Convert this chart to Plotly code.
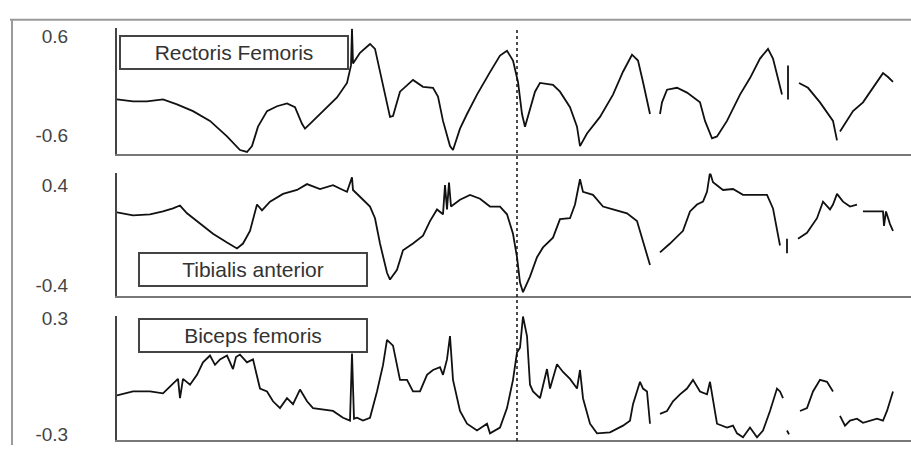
import plotly.graph_objects as go

# ---- data (time in s, EMG envelope values) ----
t_rf = [0.00,0.16,0.30,0.46,0.60,0.76,0.93,1.10,1.23,1.30,1.35,1.41,1.50,1.60,1.70,1.78,1.85,1.88,1.95,2.06,2.20,2.30,2.34,2.35,2.36,2.43,2.53,2.58,2.63,2.70,2.73,2.76,2.83,2.96,3.06,3.16,3.21,3.26,3.33,3.36,3.43,3.50,3.60,3.73,3.83,3.90,3.96,4.01,4.05,4.08,4.11,4.18,4.23,4.36,4.43,4.53,4.60,4.63,4.70,4.83,4.96,5.06,5.15,5.21,5.26,5.33,None,
        5.43,5.45,5.50,5.60,5.70,5.83,5.88,5.95,6.00,6.10,6.23,6.33,6.43,6.51,6.56,6.65,None,
        6.71,6.71,None,
        6.82,6.91,7.03,7.13,7.16,7.20,None,
        7.23,7.36,7.46,7.56,7.66,7.71,7.76]
rf = [-0.165,-0.188,-0.188,-0.165,-0.224,-0.306,-0.424,-0.612,-0.776,-0.80,-0.729,-0.494,-0.306,-0.247,-0.212,-0.259,-0.459,-0.518,-0.435,-0.306,-0.141,0.035,0.247,0.69,0.271,0.40,0.506,0.447,0.165,-0.200,-0.376,-0.365,-0.071,0.071,-0.012,-0.024,-0.129,-0.424,-0.729,-0.776,-0.518,-0.341,-0.106,0.165,0.365,0.424,0.306,0.047,-0.341,-0.494,-0.376,-0.071,0.035,0.012,-0.071,-0.259,-0.494,-0.729,-0.576,-0.376,-0.106,0.17,0.376,0.306,0.047,-0.341,None,
      -0.341,-0.200,-0.047,-0.024,-0.082,-0.200,-0.424,-0.635,-0.612,-0.424,-0.106,0.094,0.329,0.447,0.329,-0.106,None,
      0.247,-0.165,None,
      0.035,-0.024,-0.200,-0.376,-0.424,-0.659,None,
      -0.553,-0.306,-0.200,-0.024,0.153,0.106,0.047]

t_ta = [0.00,0.16,0.33,0.46,0.56,0.63,0.70,0.83,0.96,1.10,1.20,1.26,1.33,1.40,1.45,1.53,1.66,1.80,1.90,2.03,2.16,2.26,2.30,2.35,2.36,2.43,2.53,2.58,2.63,2.70,2.73,2.80,2.86,2.96,3.06,3.13,3.20,3.26,3.28,3.30,3.32,3.34,3.43,3.53,3.63,3.73,3.83,3.90,3.96,4.00,4.03,4.06,4.09,4.13,4.20,4.26,4.36,4.43,4.53,4.58,4.63,4.66,4.76,4.86,4.96,5.10,5.20,5.26,5.33,None,
        5.43,5.53,5.66,5.73,5.80,5.86,5.90,5.93,5.96,6.06,6.16,6.26,6.36,6.50,6.56,6.60,6.63,None,
        6.70,6.70,None,
        6.81,6.90,7.00,7.06,7.13,7.16,7.20,7.26,7.33,7.40,None,
        7.46,7.60,7.66,7.67,7.69,7.73,7.76]
ta = [0.183,0.159,0.167,0.190,0.214,0.237,0.175,0.097,0.012,-0.058,-0.105,-0.066,0.035,0.245,0.198,0.268,0.330,0.361,0.408,0.369,0.40,0.361,0.346,0.462,0.361,0.307,0.229,0.136,-0.066,-0.299,-0.353,-0.276,-0.120,-0.066,-0.004,0.113,0.206,0.167,0.40,0.206,0.42,0.229,0.283,0.322,0.291,0.229,0.229,0.167,0.012,-0.175,-0.377,-0.454,-0.40,-0.330,-0.175,-0.097,-0.019,0.128,0.136,0.245,0.447,0.346,0.322,0.229,0.206,0.175,0.113,-0.043,-0.237,None,
      -0.136,-0.066,0.035,0.190,0.245,0.268,0.346,0.501,0.423,0.361,0.369,0.322,0.322,0.322,0.214,0.058,-0.082,None,
      -0.027,-0.144,None,
      -0.027,0.019,0.136,0.268,0.206,0.245,0.330,0.268,0.229,0.245,None,
      0.190,0.190,0.190,0.074,0.190,0.089,0.035]

t_bf = [0.00,0.16,0.33,0.46,0.56,0.61,0.63,0.66,0.73,0.80,0.86,0.93,0.98,1.03,1.10,1.16,1.19,1.23,1.30,1.36,1.43,1.50,1.56,1.63,1.70,1.76,1.83,1.90,1.96,2.03,2.16,2.26,2.33,2.35,2.37,2.40,2.46,2.53,2.60,2.66,2.70,2.76,2.83,2.90,2.96,3.03,3.10,3.16,3.23,3.26,3.30,3.33,3.36,3.43,3.50,3.60,3.70,3.73,3.83,3.90,3.96,4.00,4.03,4.06,4.10,4.13,4.16,4.23,4.30,4.33,4.40,4.46,4.53,4.60,4.63,4.66,4.73,4.80,4.93,5.06,5.13,5.16,5.23,5.26,5.30,5.33,None,
        5.43,5.50,5.56,5.63,5.70,5.76,5.83,5.90,5.93,5.96,6.00,6.10,6.16,6.20,6.26,6.33,6.40,6.46,6.53,6.60,6.63,6.66,None,
        6.70,6.72,None,
        6.83,6.90,6.96,7.03,7.10,7.16,None,
        7.23,7.28,7.33,7.40,7.46,7.53,7.60,7.66,7.70,7.73,7.76]
bf = [-0.098,-0.078,-0.078,-0.088,-0.038,-0.013,-0.113,-0.013,-0.043,0.008,0.073,0.108,0.06,0.088,0.108,0.038,0.10,0.113,0.073,0.088,-0.063,-0.078,-0.129,-0.164,-0.113,-0.144,-0.068,-0.129,-0.164,-0.169,-0.179,-0.214,-0.229,0.118,-0.219,-0.214,-0.229,-0.214,-0.078,0.058,0.189,0.159,-0.018,-0.018,-0.078,-0.078,0.008,0.033,0.048,0.008,0.088,0.209,-0.018,-0.179,-0.245,-0.280,-0.245,-0.295,-0.265,-0.164,-0.018,0.124,0.149,0.310,0.209,-0.043,-0.078,-0.113,0.038,-0.063,0.063,0.023,-0.013,-0.063,0.033,-0.113,-0.245,-0.295,-0.290,-0.255,-0.229,-0.144,-0.028,-0.063,-0.078,-0.245,None,
      -0.194,-0.179,-0.129,-0.093,-0.063,-0.018,-0.078,-0.093,-0.028,-0.113,-0.245,-0.265,-0.255,-0.295,-0.315,-0.265,-0.315,-0.280,-0.179,-0.063,-0.078,-0.113,None,
      -0.28,-0.30,None,
      -0.179,-0.164,-0.078,-0.018,-0.028,-0.078,None,
      -0.204,-0.255,-0.229,-0.219,-0.240,-0.229,-0.219,-0.229,-0.179,-0.129,-0.078]

muscles = ["Rectoris Femoris", "Tibialis anterior", "Biceps femoris"]
tick_rf = [0.6, -0.6]
tick_ta = [0.4, -0.4]
tick_bf = [0.3, -0.3]
event_t = 4.0

W, H = 911, 450
X_LEFT = 117 / W
FONT = "Liberation Sans, Arial, sans-serif"

fig = go.Figure()
line = dict(color="#111111", width=1.8)
fig.add_trace(go.Scatter(x=t_rf, y=rf, mode="lines", line=line, xaxis="x", yaxis="y", connectgaps=False, showlegend=False))
fig.add_trace(go.Scatter(x=t_ta, y=ta, mode="lines", line=line, xaxis="x2", yaxis="y2", connectgaps=False, showlegend=False))
fig.add_trace(go.Scatter(x=t_bf, y=bf, mode="lines", line=line, xaxis="x3", yaxis="y3", connectgaps=False, showlegend=False))

xr = [0, 7.94]
def xax(anchor):
    return dict(domain=[X_LEFT, 1], range=xr, anchor=anchor, showline=True, linecolor="#777777",
                linewidth=2, showticklabels=False, ticks="", showgrid=False, zeroline=False, fixedrange=True)

def yax(anchor, dom, rng, ticks):
    return dict(domain=dom, range=rng, anchor=anchor, showline=True, linecolor="#444444", linewidth=2,
                ticks="", tickvals=ticks, ticktext=[f"{v:g}" for v in ticks], showgrid=False, zeroline=False,
                tickfont=dict(family=FONT, size=19, color="#444444"), ticklabelstandoff=43)

fig.update_layout(
    width=W, height=H, margin=dict(l=0, r=0, t=0, b=0),
    paper_bgcolor="white", plot_bgcolor="white",
    xaxis=xax("y"), xaxis2=xax("y2"), xaxis3=xax("y3"),
    yaxis=yax("x", [1 - 151 / H, 1 - 22 / H], [-0.824, 0.694], tick_rf),
    yaxis2=yax("x2", [1 - 297 / H, 1 - 171 / H], [-0.485, 0.493], tick_ta),
    yaxis3=yax("x3", [1 - 445 / H, 1 - 317 / H], [-0.330, 0.315], tick_bf),
)

# dotted event line across all panels
fig.add_shape(type="line", xref="x", yref="paper", x0=event_t, x1=event_t, y0=1 - 446 / H, y1=1 - 22 / H,
              line=dict(color="#111111", width=1.5, dash="dot"))
# outer frame (top and left)
fig.add_shape(type="line", xref="paper", yref="paper", x0=10 / W, x1=1, y0=1 - 13 / H, y1=1 - 13 / H,
              line=dict(color="#9a9a9a", width=2))
fig.add_shape(type="line", xref="paper", yref="paper", x0=12 / W, x1=12 / W, y0=0, y1=1 - 13 / H,
              line=dict(color="#9a9a9a", width=2))

boxes = [((119 + 348) / 2, (30 + 64) / 2), ((138 + 367) / 2, (252 + 287) / 2), ((138 + 367) / 2, (320 + 356) / 2)]
for name, (cx, cy) in zip(muscles, boxes):
    fig.add_annotation(text=name, xref="paper", yref="paper", x=cx / W, y=1 - cy / H,
                       xanchor="center", yanchor="middle", showarrow=False,
                       font=dict(family=FONT, size=21, color="#333333"),
                       bgcolor="white", bordercolor="#444444", borderwidth=2, borderpad=1,
                       width=224, height=29)

fig.write_html("out.html")
